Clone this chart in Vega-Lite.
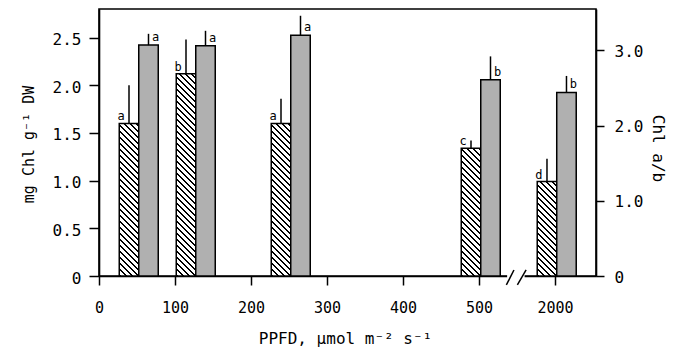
{
  "$schema": "https://vega.github.io/schema/vega-lite/v6.json",
  "width": 497,
  "height": 267,
  "autosize": "none",
  "padding": {"left": 99, "top": 9, "right": 83, "bottom": 75},
  "background": "white",
  "config": {
    "view": {"stroke": "black", "strokeWidth": 1.6},
    "axis": {
      "domainColor": "black", "domainWidth": 1.6, "tickColor": "black", "tickWidth": 1.5,
      "labelColor": "black", "titleColor": "black", "grid": false,
      "labelFont": "DejaVu Sans Mono", "titleFont": "DejaVu Sans Mono",
      "labelFontSize": 16, "titleFontSize": 16, "titleFontWeight": "normal"
    }
  },
  "data": {
    "values": [
      {"g": 1, "ppfd": 50, "chl": 1.6, "chl_hi": 2.0, "chl_lab": "a", "ab": 3.07, "ab_hi": 3.22, "ab_lab": "a"},
      {"g": 2, "ppfd": 125, "chl": 2.12, "chl_hi": 2.48, "chl_lab": "b", "ab": 3.06, "ab_hi": 3.26, "ab_lab": "a"},
      {"g": 3, "ppfd": 250, "chl": 1.6, "chl_hi": 1.86, "chl_lab": "a", "ab": 3.2, "ab_hi": 3.46, "ab_lab": "a"},
      {"g": 4, "ppfd": 500, "chl": 1.34, "chl_hi": 1.42, "chl_lab": "c", "ab": 2.61, "ab_hi": 2.92, "ab_lab": "b"},
      {"g": 5, "ppfd": 2000, "chl": 0.99, "chl_hi": 1.23, "chl_lab": "d", "ab": 2.44, "ab_hi": 2.66, "ab_lab": "b"}
    ]
  },
  "encoding": {
    "x": {
      "field": "ppfd", "type": "quantitative", "title": "PPFD, µmol m⁻² s⁻¹",
      "scale": {"domain": [0, 550, 1950, 2054], "range": [0, 418, 418, 497], "nice": false, "zero": false, "padding": 0},
      "axis": {
        "values": [0, 100, 200, 300, 400, 500, 2000], "format": "d", "labelFlush": false,
        "tickSize": 9, "labelPadding": 15, "labelFontSize": 15,
        "titleX": 246, "titleY": 67, "titleBaseline": "alphabetic"
      }
    }
  },
  "layer": [
    {
      "encoding": {
        "y": {
          "field": "chl", "type": "quantitative", "title": "mg Chl g⁻¹ DW",
          "scale": {"domain": [0, 2.8], "nice": false},
          "axis": {
            "orient": "left", "values": [0, 0.5, 1, 1.5, 2, 2.5],
            "labelExpr": "datum.value == 0 ? '0' : format(datum.value, '.1f')",
            "tickSize": 10, "labelPadding": 8, "labelOffset": 2,
            "titleX": -66, "titleY": 135, "titleBaseline": "alphabetic", "titleFontSize": 15
          }
        }
      },
      "layer": [
        {
          "transform": [{"filter": "datum.g == 1 || datum.g == 3"}],
          "mark": {"type": "bar", "orient": "vertical", "width": 19.5, "xOffset": -8, "stroke": "black", "strokeWidth": 1.5,
            "fill": {"gradient": "linear", "x1": 0, "y1": 1, "x2": 0.14183, "y2": -0.10968, "stops": [
              {"offset": 0, "color": "#000"}, {"offset": 0.0157, "color": "#000"}, {"offset": 0.0157, "color": "#fff"}, {"offset": 0.0349, "color": "#fff"},
              {"offset": 0.0349, "color": "#000"}, {"offset": 0.0506, "color": "#000"}, {"offset": 0.0506, "color": "#fff"}, {"offset": 0.0697, "color": "#fff"},
              {"offset": 0.0697, "color": "#000"}, {"offset": 0.0854, "color": "#000"}, {"offset": 0.0854, "color": "#fff"}, {"offset": 0.1046, "color": "#fff"},
              {"offset": 0.1046, "color": "#000"}, {"offset": 0.1203, "color": "#000"}, {"offset": 0.1203, "color": "#fff"}, {"offset": 0.1395, "color": "#fff"},
              {"offset": 0.1395, "color": "#000"}, {"offset": 0.1552, "color": "#000"}, {"offset": 0.1552, "color": "#fff"}, {"offset": 0.1743, "color": "#fff"},
              {"offset": 0.1743, "color": "#000"}, {"offset": 0.1900, "color": "#000"}, {"offset": 0.1900, "color": "#fff"}, {"offset": 0.2092, "color": "#fff"},
              {"offset": 0.2092, "color": "#000"}, {"offset": 0.2249, "color": "#000"}, {"offset": 0.2249, "color": "#fff"}, {"offset": 0.2441, "color": "#fff"},
              {"offset": 0.2441, "color": "#000"}, {"offset": 0.2598, "color": "#000"}, {"offset": 0.2598, "color": "#fff"}, {"offset": 0.2789, "color": "#fff"},
              {"offset": 0.2789, "color": "#000"}, {"offset": 0.2946, "color": "#000"}, {"offset": 0.2946, "color": "#fff"}, {"offset": 0.3138, "color": "#fff"},
              {"offset": 0.3138, "color": "#000"}, {"offset": 0.3295, "color": "#000"}, {"offset": 0.3295, "color": "#fff"}, {"offset": 0.3487, "color": "#fff"},
              {"offset": 0.3487, "color": "#000"}, {"offset": 0.3644, "color": "#000"}, {"offset": 0.3644, "color": "#fff"}, {"offset": 0.3835, "color": "#fff"},
              {"offset": 0.3835, "color": "#000"}, {"offset": 0.3992, "color": "#000"}, {"offset": 0.3992, "color": "#fff"}, {"offset": 0.4184, "color": "#fff"},
              {"offset": 0.4184, "color": "#000"}, {"offset": 0.4341, "color": "#000"}, {"offset": 0.4341, "color": "#fff"}, {"offset": 0.4533, "color": "#fff"},
              {"offset": 0.4533, "color": "#000"}, {"offset": 0.4690, "color": "#000"}, {"offset": 0.4690, "color": "#fff"}, {"offset": 0.4882, "color": "#fff"},
              {"offset": 0.4882, "color": "#000"}, {"offset": 0.5039, "color": "#000"}, {"offset": 0.5039, "color": "#fff"}, {"offset": 0.5230, "color": "#fff"},
              {"offset": 0.5230, "color": "#000"}, {"offset": 0.5387, "color": "#000"}, {"offset": 0.5387, "color": "#fff"}, {"offset": 0.5579, "color": "#fff"},
              {"offset": 0.5579, "color": "#000"}, {"offset": 0.5736, "color": "#000"}, {"offset": 0.5736, "color": "#fff"}, {"offset": 0.5928, "color": "#fff"},
              {"offset": 0.5928, "color": "#000"}, {"offset": 0.6085, "color": "#000"}, {"offset": 0.6085, "color": "#fff"}, {"offset": 0.6276, "color": "#fff"},
              {"offset": 0.6276, "color": "#000"}, {"offset": 0.6433, "color": "#000"}, {"offset": 0.6433, "color": "#fff"}, {"offset": 0.6625, "color": "#fff"},
              {"offset": 0.6625, "color": "#000"}, {"offset": 0.6782, "color": "#000"}, {"offset": 0.6782, "color": "#fff"}, {"offset": 0.6974, "color": "#fff"},
              {"offset": 0.6974, "color": "#000"}, {"offset": 0.7131, "color": "#000"}, {"offset": 0.7131, "color": "#fff"}, {"offset": 0.7322, "color": "#fff"},
              {"offset": 0.7322, "color": "#000"}, {"offset": 0.7479, "color": "#000"}, {"offset": 0.7479, "color": "#fff"}, {"offset": 0.7671, "color": "#fff"},
              {"offset": 0.7671, "color": "#000"}, {"offset": 0.7828, "color": "#000"}, {"offset": 0.7828, "color": "#fff"}, {"offset": 0.8020, "color": "#fff"},
              {"offset": 0.8020, "color": "#000"}, {"offset": 0.8177, "color": "#000"}, {"offset": 0.8177, "color": "#fff"}, {"offset": 0.8368, "color": "#fff"},
              {"offset": 0.8368, "color": "#000"}, {"offset": 0.8525, "color": "#000"}, {"offset": 0.8525, "color": "#fff"}, {"offset": 0.8717, "color": "#fff"},
              {"offset": 0.8717, "color": "#000"}, {"offset": 0.8874, "color": "#000"}, {"offset": 0.8874, "color": "#fff"}, {"offset": 0.9066, "color": "#fff"},
              {"offset": 0.9066, "color": "#000"}, {"offset": 0.9223, "color": "#000"}, {"offset": 0.9223, "color": "#fff"}, {"offset": 0.9414, "color": "#fff"},
              {"offset": 0.9414, "color": "#000"}, {"offset": 0.9571, "color": "#000"}, {"offset": 0.9571, "color": "#fff"}, {"offset": 0.9763, "color": "#fff"},
              {"offset": 0.9763, "color": "#000"}, {"offset": 0.9920, "color": "#000"}, {"offset": 0.9920, "color": "#fff"}, {"offset": 1, "color": "#fff"}
            ]}
          }
        },
        {
          "transform": [{"filter": "datum.g == 2"}],
          "mark": {"type": "bar", "orient": "vertical", "width": 19.5, "xOffset": -8, "stroke": "black", "strokeWidth": 1.5,
            "fill": {"gradient": "linear", "x1": 0, "y1": 1, "x2": 0.10479, "y2": -0.08635, "stops": [
              {"offset": 0, "color": "#000"}, {"offset": 0.0122, "color": "#000"}, {"offset": 0.0122, "color": "#fff"}, {"offset": 0.0271, "color": "#fff"},
              {"offset": 0.0271, "color": "#000"}, {"offset": 0.0393, "color": "#000"}, {"offset": 0.0393, "color": "#fff"}, {"offset": 0.0541, "color": "#fff"},
              {"offset": 0.0541, "color": "#000"}, {"offset": 0.0663, "color": "#000"}, {"offset": 0.0663, "color": "#fff"}, {"offset": 0.0812, "color": "#fff"},
              {"offset": 0.0812, "color": "#000"}, {"offset": 0.0934, "color": "#000"}, {"offset": 0.0934, "color": "#fff"}, {"offset": 0.1083, "color": "#fff"},
              {"offset": 0.1083, "color": "#000"}, {"offset": 0.1205, "color": "#000"}, {"offset": 0.1205, "color": "#fff"}, {"offset": 0.1354, "color": "#fff"},
              {"offset": 0.1354, "color": "#000"}, {"offset": 0.1476, "color": "#000"}, {"offset": 0.1476, "color": "#fff"}, {"offset": 0.1624, "color": "#fff"},
              {"offset": 0.1624, "color": "#000"}, {"offset": 0.1746, "color": "#000"}, {"offset": 0.1746, "color": "#fff"}, {"offset": 0.1895, "color": "#fff"},
              {"offset": 0.1895, "color": "#000"}, {"offset": 0.2017, "color": "#000"}, {"offset": 0.2017, "color": "#fff"}, {"offset": 0.2166, "color": "#fff"},
              {"offset": 0.2166, "color": "#000"}, {"offset": 0.2288, "color": "#000"}, {"offset": 0.2288, "color": "#fff"}, {"offset": 0.2436, "color": "#fff"},
              {"offset": 0.2436, "color": "#000"}, {"offset": 0.2558, "color": "#000"}, {"offset": 0.2558, "color": "#fff"}, {"offset": 0.2707, "color": "#fff"},
              {"offset": 0.2707, "color": "#000"}, {"offset": 0.2829, "color": "#000"}, {"offset": 0.2829, "color": "#fff"}, {"offset": 0.2978, "color": "#fff"},
              {"offset": 0.2978, "color": "#000"}, {"offset": 0.3100, "color": "#000"}, {"offset": 0.3100, "color": "#fff"}, {"offset": 0.3249, "color": "#fff"},
              {"offset": 0.3249, "color": "#000"}, {"offset": 0.3371, "color": "#000"}, {"offset": 0.3371, "color": "#fff"}, {"offset": 0.3519, "color": "#fff"},
              {"offset": 0.3519, "color": "#000"}, {"offset": 0.3641, "color": "#000"}, {"offset": 0.3641, "color": "#fff"}, {"offset": 0.3790, "color": "#fff"},
              {"offset": 0.3790, "color": "#000"}, {"offset": 0.3912, "color": "#000"}, {"offset": 0.3912, "color": "#fff"}, {"offset": 0.4061, "color": "#fff"},
              {"offset": 0.4061, "color": "#000"}, {"offset": 0.4183, "color": "#000"}, {"offset": 0.4183, "color": "#fff"}, {"offset": 0.4331, "color": "#fff"},
              {"offset": 0.4331, "color": "#000"}, {"offset": 0.4453, "color": "#000"}, {"offset": 0.4453, "color": "#fff"}, {"offset": 0.4602, "color": "#fff"},
              {"offset": 0.4602, "color": "#000"}, {"offset": 0.4724, "color": "#000"}, {"offset": 0.4724, "color": "#fff"}, {"offset": 0.4873, "color": "#fff"},
              {"offset": 0.4873, "color": "#000"}, {"offset": 0.4995, "color": "#000"}, {"offset": 0.4995, "color": "#fff"}, {"offset": 0.5143, "color": "#fff"},
              {"offset": 0.5143, "color": "#000"}, {"offset": 0.5265, "color": "#000"}, {"offset": 0.5265, "color": "#fff"}, {"offset": 0.5414, "color": "#fff"},
              {"offset": 0.5414, "color": "#000"}, {"offset": 0.5536, "color": "#000"}, {"offset": 0.5536, "color": "#fff"}, {"offset": 0.5685, "color": "#fff"},
              {"offset": 0.5685, "color": "#000"}, {"offset": 0.5807, "color": "#000"}, {"offset": 0.5807, "color": "#fff"}, {"offset": 0.5956, "color": "#fff"},
              {"offset": 0.5956, "color": "#000"}, {"offset": 0.6078, "color": "#000"}, {"offset": 0.6078, "color": "#fff"}, {"offset": 0.6226, "color": "#fff"},
              {"offset": 0.6226, "color": "#000"}, {"offset": 0.6348, "color": "#000"}, {"offset": 0.6348, "color": "#fff"}, {"offset": 0.6497, "color": "#fff"},
              {"offset": 0.6497, "color": "#000"}, {"offset": 0.6619, "color": "#000"}, {"offset": 0.6619, "color": "#fff"}, {"offset": 0.6768, "color": "#fff"},
              {"offset": 0.6768, "color": "#000"}, {"offset": 0.6890, "color": "#000"}, {"offset": 0.6890, "color": "#fff"}, {"offset": 0.7038, "color": "#fff"},
              {"offset": 0.7038, "color": "#000"}, {"offset": 0.7160, "color": "#000"}, {"offset": 0.7160, "color": "#fff"}, {"offset": 0.7309, "color": "#fff"},
              {"offset": 0.7309, "color": "#000"}, {"offset": 0.7431, "color": "#000"}, {"offset": 0.7431, "color": "#fff"}, {"offset": 0.7580, "color": "#fff"},
              {"offset": 0.7580, "color": "#000"}, {"offset": 0.7702, "color": "#000"}, {"offset": 0.7702, "color": "#fff"}, {"offset": 0.7851, "color": "#fff"},
              {"offset": 0.7851, "color": "#000"}, {"offset": 0.7973, "color": "#000"}, {"offset": 0.7973, "color": "#fff"}, {"offset": 0.8121, "color": "#fff"},
              {"offset": 0.8121, "color": "#000"}, {"offset": 0.8243, "color": "#000"}, {"offset": 0.8243, "color": "#fff"}, {"offset": 0.8392, "color": "#fff"},
              {"offset": 0.8392, "color": "#000"}, {"offset": 0.8514, "color": "#000"}, {"offset": 0.8514, "color": "#fff"}, {"offset": 0.8663, "color": "#fff"},
              {"offset": 0.8663, "color": "#000"}, {"offset": 0.8785, "color": "#000"}, {"offset": 0.8785, "color": "#fff"}, {"offset": 0.8933, "color": "#fff"},
              {"offset": 0.8933, "color": "#000"}, {"offset": 0.9055, "color": "#000"}, {"offset": 0.9055, "color": "#fff"}, {"offset": 0.9204, "color": "#fff"},
              {"offset": 0.9204, "color": "#000"}, {"offset": 0.9326, "color": "#000"}, {"offset": 0.9326, "color": "#fff"}, {"offset": 0.9475, "color": "#fff"},
              {"offset": 0.9475, "color": "#000"}, {"offset": 0.9597, "color": "#000"}, {"offset": 0.9597, "color": "#fff"}, {"offset": 0.9746, "color": "#fff"},
              {"offset": 0.9746, "color": "#000"}, {"offset": 0.9868, "color": "#000"}, {"offset": 0.9868, "color": "#fff"}, {"offset": 1, "color": "#fff"}
            ]}
          }
        },
        {
          "transform": [{"filter": "datum.g == 4"}],
          "mark": {"type": "bar", "orient": "vertical", "width": 19.5, "xOffset": -8, "stroke": "black", "strokeWidth": 1.5,
            "fill": {"gradient": "linear", "x1": 0, "y1": 1, "x2": 0.17189, "y2": -0.12638, "stops": [
              {"offset": 0, "color": "#000"}, {"offset": 0.0183, "color": "#000"}, {"offset": 0.0183, "color": "#fff"}, {"offset": 0.0407, "color": "#fff"},
              {"offset": 0.0407, "color": "#000"}, {"offset": 0.0591, "color": "#000"}, {"offset": 0.0591, "color": "#fff"}, {"offset": 0.0815, "color": "#fff"},
              {"offset": 0.0815, "color": "#000"}, {"offset": 0.0998, "color": "#000"}, {"offset": 0.0998, "color": "#fff"}, {"offset": 0.1222, "color": "#fff"},
              {"offset": 0.1222, "color": "#000"}, {"offset": 0.1405, "color": "#000"}, {"offset": 0.1405, "color": "#fff"}, {"offset": 0.1629, "color": "#fff"},
              {"offset": 0.1629, "color": "#000"}, {"offset": 0.1813, "color": "#000"}, {"offset": 0.1813, "color": "#fff"}, {"offset": 0.2037, "color": "#fff"},
              {"offset": 0.2037, "color": "#000"}, {"offset": 0.2220, "color": "#000"}, {"offset": 0.2220, "color": "#fff"}, {"offset": 0.2444, "color": "#fff"},
              {"offset": 0.2444, "color": "#000"}, {"offset": 0.2627, "color": "#000"}, {"offset": 0.2627, "color": "#fff"}, {"offset": 0.2851, "color": "#fff"},
              {"offset": 0.2851, "color": "#000"}, {"offset": 0.3035, "color": "#000"}, {"offset": 0.3035, "color": "#fff"}, {"offset": 0.3259, "color": "#fff"},
              {"offset": 0.3259, "color": "#000"}, {"offset": 0.3442, "color": "#000"}, {"offset": 0.3442, "color": "#fff"}, {"offset": 0.3666, "color": "#fff"},
              {"offset": 0.3666, "color": "#000"}, {"offset": 0.3849, "color": "#000"}, {"offset": 0.3849, "color": "#fff"}, {"offset": 0.4073, "color": "#fff"},
              {"offset": 0.4073, "color": "#000"}, {"offset": 0.4257, "color": "#000"}, {"offset": 0.4257, "color": "#fff"}, {"offset": 0.4481, "color": "#fff"},
              {"offset": 0.4481, "color": "#000"}, {"offset": 0.4664, "color": "#000"}, {"offset": 0.4664, "color": "#fff"}, {"offset": 0.4888, "color": "#fff"},
              {"offset": 0.4888, "color": "#000"}, {"offset": 0.5071, "color": "#000"}, {"offset": 0.5071, "color": "#fff"}, {"offset": 0.5295, "color": "#fff"},
              {"offset": 0.5295, "color": "#000"}, {"offset": 0.5479, "color": "#000"}, {"offset": 0.5479, "color": "#fff"}, {"offset": 0.5703, "color": "#fff"},
              {"offset": 0.5703, "color": "#000"}, {"offset": 0.5886, "color": "#000"}, {"offset": 0.5886, "color": "#fff"}, {"offset": 0.6110, "color": "#fff"},
              {"offset": 0.6110, "color": "#000"}, {"offset": 0.6293, "color": "#000"}, {"offset": 0.6293, "color": "#fff"}, {"offset": 0.6517, "color": "#fff"},
              {"offset": 0.6517, "color": "#000"}, {"offset": 0.6701, "color": "#000"}, {"offset": 0.6701, "color": "#fff"}, {"offset": 0.6925, "color": "#fff"},
              {"offset": 0.6925, "color": "#000"}, {"offset": 0.7108, "color": "#000"}, {"offset": 0.7108, "color": "#fff"}, {"offset": 0.7332, "color": "#fff"},
              {"offset": 0.7332, "color": "#000"}, {"offset": 0.7515, "color": "#000"}, {"offset": 0.7515, "color": "#fff"}, {"offset": 0.7739, "color": "#fff"},
              {"offset": 0.7739, "color": "#000"}, {"offset": 0.7923, "color": "#000"}, {"offset": 0.7923, "color": "#fff"}, {"offset": 0.8147, "color": "#fff"},
              {"offset": 0.8147, "color": "#000"}, {"offset": 0.8330, "color": "#000"}, {"offset": 0.8330, "color": "#fff"}, {"offset": 0.8554, "color": "#fff"},
              {"offset": 0.8554, "color": "#000"}, {"offset": 0.8737, "color": "#000"}, {"offset": 0.8737, "color": "#fff"}, {"offset": 0.8961, "color": "#fff"},
              {"offset": 0.8961, "color": "#000"}, {"offset": 0.9145, "color": "#000"}, {"offset": 0.9145, "color": "#fff"}, {"offset": 0.9369, "color": "#fff"},
              {"offset": 0.9369, "color": "#000"}, {"offset": 0.9552, "color": "#000"}, {"offset": 0.9552, "color": "#fff"}, {"offset": 0.9776, "color": "#fff"},
              {"offset": 0.9776, "color": "#000"}, {"offset": 0.9959, "color": "#000"}, {"offset": 0.9959, "color": "#fff"}, {"offset": 1, "color": "#fff"}
            ]}
          }
        },
        {
          "transform": [{"filter": "datum.g == 5"}],
          "mark": {"type": "bar", "orient": "vertical", "width": 19.5, "xOffset": -8, "stroke": "black", "strokeWidth": 1.5,
            "fill": {"gradient": "linear", "x1": 0, "y1": 1, "x2": 0.23904, "y2": -0.15717, "stops": [
              {"offset": 0, "color": "#000"}, {"offset": 0.0237, "color": "#000"}, {"offset": 0.0237, "color": "#fff"}, {"offset": 0.0527, "color": "#fff"},
              {"offset": 0.0527, "color": "#000"}, {"offset": 0.0764, "color": "#000"}, {"offset": 0.0764, "color": "#fff"}, {"offset": 0.1054, "color": "#fff"},
              {"offset": 0.1054, "color": "#000"}, {"offset": 0.1291, "color": "#000"}, {"offset": 0.1291, "color": "#fff"}, {"offset": 0.1581, "color": "#fff"},
              {"offset": 0.1581, "color": "#000"}, {"offset": 0.1818, "color": "#000"}, {"offset": 0.1818, "color": "#fff"}, {"offset": 0.2107, "color": "#fff"},
              {"offset": 0.2107, "color": "#000"}, {"offset": 0.2344, "color": "#000"}, {"offset": 0.2344, "color": "#fff"}, {"offset": 0.2634, "color": "#fff"},
              {"offset": 0.2634, "color": "#000"}, {"offset": 0.2871, "color": "#000"}, {"offset": 0.2871, "color": "#fff"}, {"offset": 0.3161, "color": "#fff"},
              {"offset": 0.3161, "color": "#000"}, {"offset": 0.3398, "color": "#000"}, {"offset": 0.3398, "color": "#fff"}, {"offset": 0.3688, "color": "#fff"},
              {"offset": 0.3688, "color": "#000"}, {"offset": 0.3925, "color": "#000"}, {"offset": 0.3925, "color": "#fff"}, {"offset": 0.4215, "color": "#fff"},
              {"offset": 0.4215, "color": "#000"}, {"offset": 0.4452, "color": "#000"}, {"offset": 0.4452, "color": "#fff"}, {"offset": 0.4742, "color": "#fff"},
              {"offset": 0.4742, "color": "#000"}, {"offset": 0.4979, "color": "#000"}, {"offset": 0.4979, "color": "#fff"}, {"offset": 0.5269, "color": "#fff"},
              {"offset": 0.5269, "color": "#000"}, {"offset": 0.5506, "color": "#000"}, {"offset": 0.5506, "color": "#fff"}, {"offset": 0.5796, "color": "#fff"},
              {"offset": 0.5796, "color": "#000"}, {"offset": 0.6033, "color": "#000"}, {"offset": 0.6033, "color": "#fff"}, {"offset": 0.6322, "color": "#fff"},
              {"offset": 0.6322, "color": "#000"}, {"offset": 0.6559, "color": "#000"}, {"offset": 0.6559, "color": "#fff"}, {"offset": 0.6849, "color": "#fff"},
              {"offset": 0.6849, "color": "#000"}, {"offset": 0.7086, "color": "#000"}, {"offset": 0.7086, "color": "#fff"}, {"offset": 0.7376, "color": "#fff"},
              {"offset": 0.7376, "color": "#000"}, {"offset": 0.7613, "color": "#000"}, {"offset": 0.7613, "color": "#fff"}, {"offset": 0.7903, "color": "#fff"},
              {"offset": 0.7903, "color": "#000"}, {"offset": 0.8140, "color": "#000"}, {"offset": 0.8140, "color": "#fff"}, {"offset": 0.8430, "color": "#fff"},
              {"offset": 0.8430, "color": "#000"}, {"offset": 0.8667, "color": "#000"}, {"offset": 0.8667, "color": "#fff"}, {"offset": 0.8957, "color": "#fff"},
              {"offset": 0.8957, "color": "#000"}, {"offset": 0.9194, "color": "#000"}, {"offset": 0.9194, "color": "#fff"}, {"offset": 0.9484, "color": "#fff"},
              {"offset": 0.9484, "color": "#000"}, {"offset": 0.9721, "color": "#000"}, {"offset": 0.9721, "color": "#fff"}, {"offset": 1, "color": "#fff"}
            ]}
          }
        },
        {
          "mark": {"type": "rule", "xOffset": -8, "color": "black", "strokeWidth": 1.5},
          "encoding": {"y2": {"field": "chl_hi"}}
        },
        {
          "mark": {"type": "text", "dx": -16, "dy": -3, "baseline": "alphabetic", "align": "center", "font": "DejaVu Sans Mono", "fontSize": 12, "color": "black"},
          "encoding": {"text": {"field": "chl_lab"}}
        },
        {
          "data": {"values": [{"ppfd": 537, "ppfd2": 1960, "chl": 0}]},
          "mark": {"type": "rule", "color": "white", "strokeWidth": 4},
          "encoding": {"x2": {"field": "ppfd2"}}
        },
        {
          "data": {"values": [
            {"ppfd": 536, "ppfd2": 546, "chl": -0.094, "chl2": 0.063},
            {"ppfd": 1950.5, "ppfd2": 1962, "chl": -0.094, "chl2": 0.063}
          ]},
          "mark": {"type": "rule", "color": "black", "strokeWidth": 1.5},
          "encoding": {"x2": {"field": "ppfd2"}, "y2": {"field": "chl2"}}
        }
      ]
    },
    {
      "encoding": {
        "y": {
          "field": "ab", "type": "quantitative", "title": "Chl a/b",
          "scale": {"domain": [0, 3.55], "nice": false},
          "axis": {
            "orient": "right", "values": [0, 1, 2, 3],
            "labelExpr": "datum.value == 0 ? '0' : format(datum.value, '.1f')",
            "tickSize": 8, "labelPadding": 10, "labelOffset": 1,
            "titleX": 56, "titleY": 139, "titleAngle": 90, "titleBaseline": "alphabetic"
          }
        }
      },
      "layer": [
        {
          "mark": {"type": "bar", "orient": "vertical", "width": 19.5, "xOffset": 11.5, "fill": "#b0b0b0", "stroke": "black", "strokeWidth": 1.5}
        },
        {
          "mark": {"type": "rule", "xOffset": 11.5, "color": "black", "strokeWidth": 1.5},
          "encoding": {"y2": {"field": "ab_hi"}}
        },
        {
          "mark": {"type": "text", "dx": 18.5, "dy": -4, "baseline": "alphabetic", "align": "center", "font": "DejaVu Sans Mono", "fontSize": 12, "color": "black"},
          "encoding": {"text": {"field": "ab_lab"}}
        }
      ]
    }
  ],
  "resolve": {"scale": {"y": "independent"}}
}
